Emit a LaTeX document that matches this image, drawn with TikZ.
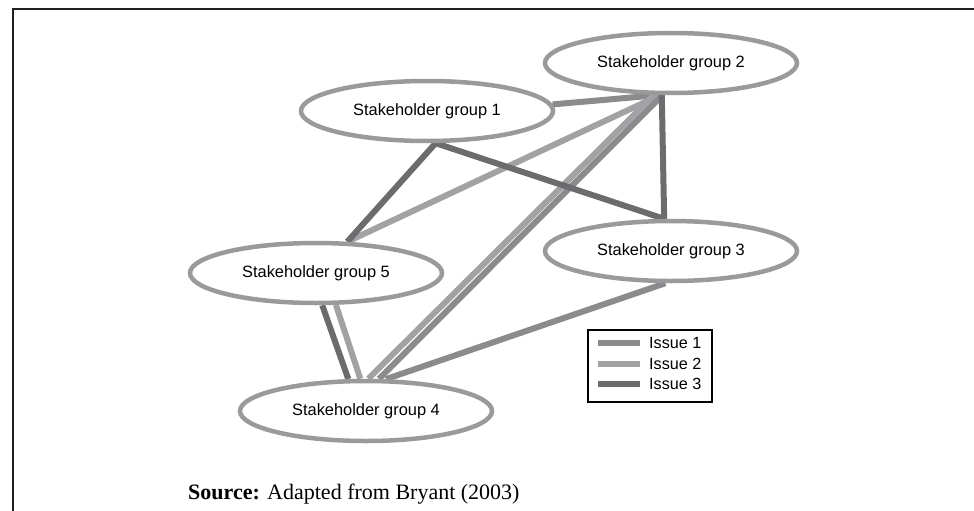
\documentclass[tikz,border=0pt]{standalone}
\usepackage{fontspec}
\setmainfont{Liberation Serif}
\newfontfamily\labelfont{Liberation Sans}
\usetikzlibrary{shapes.geometric,backgrounds,positioning}

\definecolor{issueone}{HTML}{8B8B8D}
\definecolor{issuetwo}{HTML}{A2A2A4}
\definecolor{issuethree}{HTML}{6C6C6E}
\definecolor{ringgray}{HTML}{9A9A9C}
\definecolor{framegray}{HTML}{231F20}

\begin{document}
\begin{tikzpicture}[x=1pt,y=-1pt]
    \tikzstyle{group}=[ellipse,draw=ringgray,fill=white,line width=4.5pt,
      minimum width=252pt,minimum height=60pt,inner sep=0pt,
      font=\labelfont\fontsize{16.4}{19}\selectfont]
    \tikzstyle{link}=[line width=6pt]

    \useasboundingbox (0,0) rectangle (974,511);
    \draw [framegray,line width=2.5pt] (974,9) -- (13,9) -- (13,511);

    \node[group] (g1) at (427,111) {Stakeholder group 1};
    \node[group] (g2) at (671,63)  {Stakeholder group 2};
    \node[group] (g3) at (671,251) {Stakeholder group 3};
    \node[group] (g4) at (366,411) {Stakeholder group 4};
    \node[group] (g5) at (316,273) {Stakeholder group 5};

    \begin{pgfonlayer}{background}
      \draw [link,issueone]   (g1.3) -- (g2.-111);
      \draw [link,issuetwo]   (g5.45) -- (g2.-109);
      \draw [link,issuetwo]   (g4.86) -- (g2.-118);
      \draw [link,issueone]   (g4.68) -- (g2.-105);
      \draw [link,issuethree] (g2.-106) -- (g3.102);
      \draw [link,issuethree] (g1.-75) -- (g3.102);
      \draw [link,issuethree] (g1.-75) -- (g5.45);
      \draw [link,issueone]   (g4.58) -- (g3.-100);
      \draw [link,issuethree] (g5.-79) -- (g4.119);
      \draw [link,issuetwo]   (g5.-58) -- (g4.100);
    \end{pgfonlayer}

    % legend
    \node[draw=black,line width=1.3pt,minimum width=124pt,minimum height=72pt]
      (legend) at (650,366) {};
    \foreach \n/\c/\y in {1/issueone/343,2/issuetwo/364,3/issuethree/384} {
      \draw [link,\c] (598,\y) -- (640,\y);
      \node[anchor=west,inner sep=1pt,font=\labelfont\fontsize{16.2}{18}\selectfont]
        (issue\n) at (648,\y) {Issue \n};
    }

    \node[anchor=base west,inner sep=0pt,font=\fontsize{22}{26}\selectfont]
      (source) at (188,499) {\textbf{Source:} Adapted from Bryant (2003)};
\end{tikzpicture}
\end{document}
